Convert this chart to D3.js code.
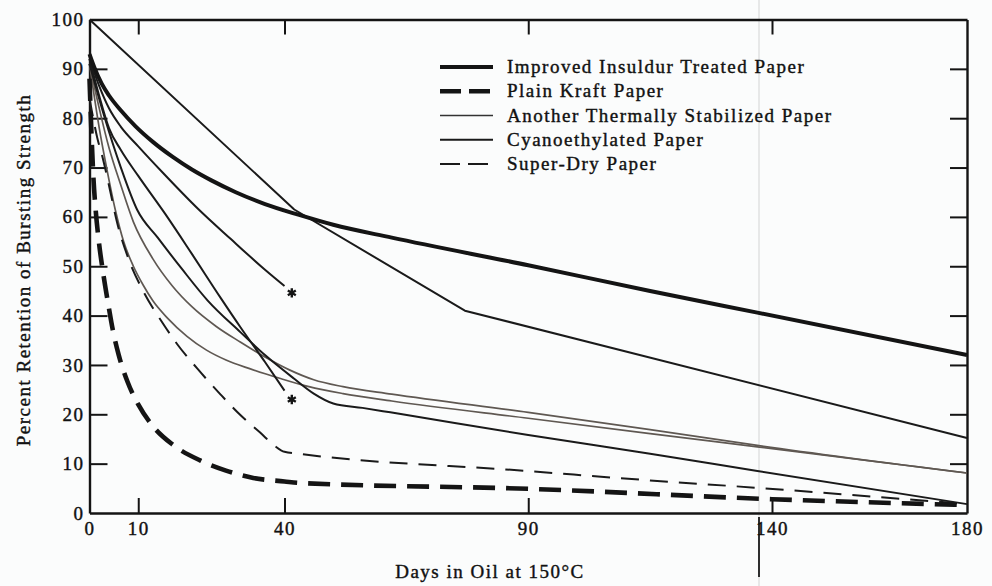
<!DOCTYPE html>
<html><head><meta charset="utf-8">
<script src="https://cdn.jsdelivr.net/npm/d3@7"></script>
<style>
html,body{margin:0;padding:0;background:#fbfcfc;}
svg{display:block;}
text{font-family:"Liberation Serif","Times New Roman",serif;fill:#111;stroke:#111;stroke-width:0.4px;}
</style></head><body>
<svg id="chart" width="992" height="586"></svg>
<script>
// ---- data ----
const xTickValues = [0, 10, 40, 90, 140, 180];
const yTickValues = [0, 10, 20, 30, 40, 50, 60, 70, 80, 90, 100];
const innerXTicks = [10, 40, 90, 140];
const innerYTicks = [10, 20, 30, 40, 50, 60, 70, 80, 90];

const legendLabels = [
  "Improved Insuldur Treated Paper",
  "Plain Kraft Paper",
  "Another Thermally Stabilized Paper",
  "Cyanoethylated Paper",
  "Super-Dry Paper"
];

const improvedInsuldur = [[0,93],[1,90.3],[2.5,87],[4,84.6],[6.4,81.6],[9.4,78.4],[13,75.2],[17,72.2],[21,69.6],[25,67.4],[30,65],[36,62.6],[43,60.4],[50,58.4],[62,55.8],[90,50.2],[115,45],[137,40.6],[180,32]];
const plainKraft = [[0,88],[0.4,77],[0.8,68],[1.3,61],[1.8,56],[2.9,48],[3.9,42],[4.8,37],[6,32],[7.8,26.6],[10,22],[13,17.6],[17,13.9],[22.8,10.6],[28,8.6],[33.6,7.1],[40,6.4],[43,6.1],[90,4.9],[140,2.8],[180,1.6]];
const superDry = [[0,84],[1.6,76],[2.7,72],[4.3,65],[5.5,59.5],[8,51.5],[11,45],[15,38.5],[18,34.2],[22,29.4],[26.9,24],[31,19.8],[35,16.3],[38,13.6],[40,12.4],[43,12],[90,8.5],[115,6.6],[137,5.1],[180,1.8]];
const cyanoethylated = [[0,100],[42,61.5],[77,41],[180,15.2]];
const stabilizedA = [[0,91],[2,82],[4,74],[6.4,66.5],[9,59],[13,51.5],[17,46],[21,41.8],[26,37.8],[31,34.6],[36,31.6],[41,29],[46,27],[52,25.6],[62,24.1],[90,20.4],[115,16.9],[137,13.7],[180,8.1]];
const stabilizedB = [[0,91],[2,78],[3.5,70],[5.3,61.4],[7,55],[9,50],[11,46.2],[13,43],[16,39.5],[20,35.8],[24,33],[28,31],[33,29.2],[39,27.3],[45,25.6],[52,24.2],[62,22.7],[90,19.2],[115,16.1],[137,13.4],[180,8.1]];
const testA = [[0,92],[2,86.5],[4,82],[6.4,78.3],[10,74.3],[15,69],[22.3,61.6],[29,55.5],[36,49.3],[40,46]];
const testB = [[0,92],[2,84.5],[4,78],[6.4,73.6],[10,68.3],[15.6,60.5],[21,52.5],[26.9,43.6],[31,37.6],[36,30.6],[40,24.8]];
const testC = [[0,91],[3,80.5],[6.4,70.1],[9.8,61.4],[14,55.8],[19,49.4],[24.2,43.1],[31,36.6],[36,32],[42,27.2],[46,24.2],[50,22.2],[56,21.3],[61.7,20.4],[90,15.8],[115,12],[137,8.5],[180,1.8]];
const asteriskPoints = [[41.5,44.6],[41.5,23]];

// ---- drawing ----
const svg = d3.select("#chart");
const x = d3.scaleLinear().domain([0,180]).range([89.5,967]);
const y = d3.scaleLinear().domain([0,100]).range([513,19.5]);

// scan artifacts
svg.append("line").attr("x1",759).attr("x2",759).attr("y1",0).attr("y2",586)
  .attr("stroke","#e0e2e2").attr("stroke-width",1.5);
svg.append("line").attr("x1",759).attr("x2",759).attr("y1",517).attr("y2",577)
  .attr("stroke","#1a1a1a").attr("stroke-width",1.8);

const fontSize = 19, ls = 1.5;

function styleAxis(g){
  g.select(".domain").attr("stroke","#141414").attr("stroke-width",2.4);
  g.selectAll(".tick line").attr("stroke","#141414").attr("stroke-width",2);
  g.selectAll(".tick text").attr("font-family","Liberation Serif, serif")
    .attr("font-size",fontSize).attr("letter-spacing",ls).attr("fill","#111");
}

svg.append("g").attr("transform",`translate(0,${y(0)})`)
  .call(d3.axisBottom(x).tickValues(xTickValues).tickSize(0).tickSizeOuter(0).tickPadding(9).tickFormat(d3.format("d")))
  .call(styleAxis);
svg.append("g").attr("transform",`translate(0,${y(0)})`)
  .call(d3.axisBottom(x).tickValues(innerXTicks).tickSize(-15).tickSizeOuter(0).tickFormat(""))
  .call(styleAxis).call(g=>g.select(".domain").remove());
svg.append("g").attr("transform",`translate(0,${y(100)})`)
  .call(d3.axisTop(x).tickValues(innerXTicks).tickSize(-15).tickSizeOuter(0).tickFormat(""))
  .call(styleAxis);
svg.append("g").attr("transform",`translate(${x(0)},0)`)
  .call(d3.axisLeft(y).tickValues(yTickValues).tickSize(0).tickSizeOuter(0).tickPadding(5).tickFormat(d3.format("d")))
  .call(styleAxis);
svg.append("g").attr("transform",`translate(${x(0)},0)`)
  .call(d3.axisLeft(y).tickValues(innerYTicks).tickSize(-18).tickSizeOuter(0).tickFormat(""))
  .call(styleAxis).call(g=>g.select(".domain").remove());
svg.append("g").attr("transform",`translate(${x(180)},0)`)
  .call(d3.axisRight(y).tickValues(innerYTicks).tickSize(-17).tickSizeOuter(0).tickFormat(""))
  .call(styleAxis);

// lines
const smooth = d3.line().x(d=>x(d[0])).y(d=>y(d[1])).curve(d3.curveMonotoneX);
const straight = d3.line().x(d=>x(d[0])).y(d=>y(d[1])).curve(d3.curveLinear);

const series = [
  {data: stabilizedA, gen: smooth, stroke:"#5f5852", w:1.7, dash:null},
  {data: stabilizedB, gen: smooth, stroke:"#5f5852", w:1.7, dash:null},
  {data: testC, gen: smooth, stroke:"#1a1a1a", w:2, dash:null},
  {data: testB, gen: smooth, stroke:"#1a1a1a", w:2, dash:null},
  {data: testA, gen: smooth, stroke:"#1a1a1a", w:2, dash:null},
  {data: cyanoethylated, gen: straight, stroke:"#1a1a1a", w:2, dash:null},
  {data: superDry, gen: smooth, stroke:"#1a1a1a", w:2, dash:"18,11"},
  {data: plainKraft, gen: smooth, stroke:"#141414", w:4.6, dash:"22,11"},
  {data: improvedInsuldur, gen: smooth, stroke:"#141414", w:4, dash:null}
];
svg.append("g").selectAll("path").data(series).join("path")
  .attr("d", s=>s.gen(s.data)).attr("fill","none")
  .attr("stroke", s=>s.stroke).attr("stroke-width", s=>s.w)
  .attr("stroke-dasharray", s=>s.dash).attr("stroke-linejoin","round");

svg.append("g").selectAll("path").data(asteriskPoints).join("path")
  .attr("transform", d=>`translate(${x(d[0])},${y(d[1])})`)
  .attr("d", d3.symbol(d3.symbolAsterisk, 60)())
  .attr("stroke","#141414").attr("stroke-width",2.4).attr("fill","none");

// legend
const legendStyles = [
  {w:4, dash:null, stroke:"#141414"},
  {w:4.6, dash:"21,8", stroke:"#141414"},
  {w:1.5, dash:null, stroke:"#333"},
  {w:2.2, dash:null, stroke:"#1a1a1a"},
  {w:2, dash:"20,8", stroke:"#1a1a1a"}
];
const ly = d3.scalePoint().domain(legendLabels).range([67,164]);
const lg = svg.append("g").selectAll("g").data(legendLabels).join("g")
  .attr("transform", d=>`translate(0,${ly(d)})`);
lg.append("line").attr("x1",440).attr("x2",493).attr("y1",0).attr("y2",0)
  .attr("stroke",(d,i)=>legendStyles[i].stroke).attr("stroke-width",(d,i)=>legendStyles[i].w)
  .attr("stroke-dasharray",(d,i)=>legendStyles[i].dash);
lg.append("text").attr("x",507).attr("y",6).text(d=>d)
  .attr("font-size",fontSize).attr("letter-spacing",ls);

// axis titles
svg.append("text").attr("x",490).attr("y",578).attr("text-anchor","middle")
  .attr("font-size",fontSize).attr("letter-spacing",ls).text("Days in Oil at 150°C");
svg.append("text").attr("transform","translate(30,270) rotate(-90)").attr("text-anchor","middle")
  .attr("font-size",fontSize).attr("letter-spacing",ls).text("Percent Retention of Bursting Strength");
</script>
</body></html>
